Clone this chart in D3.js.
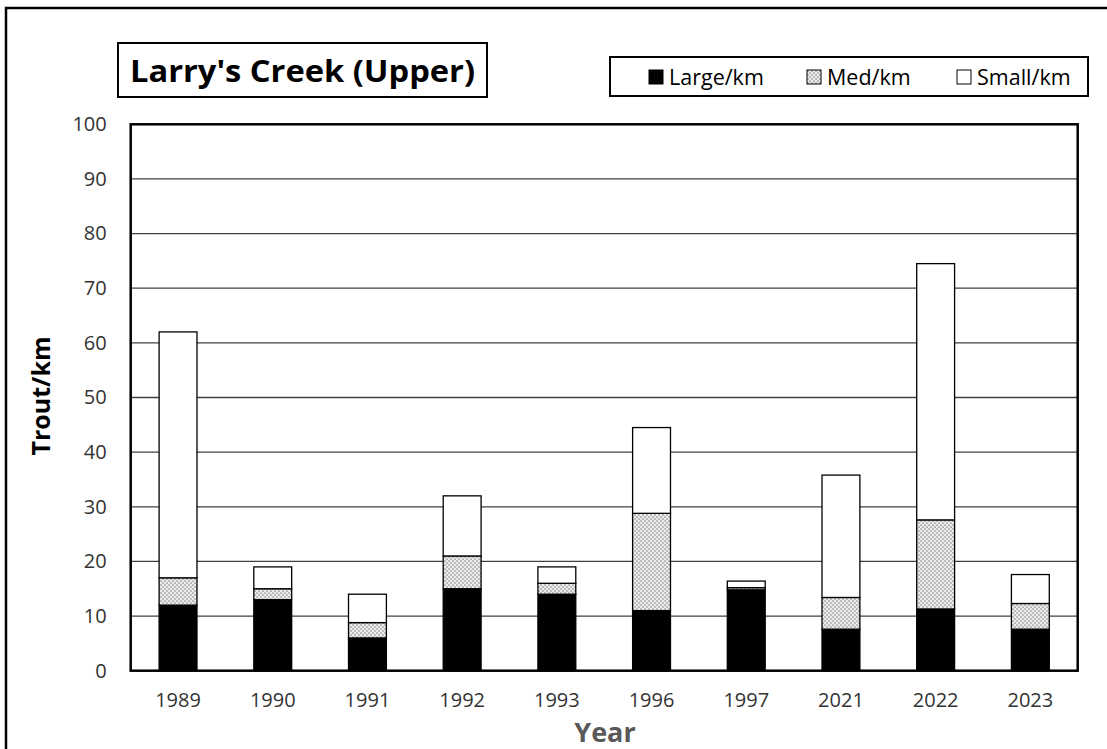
<!DOCTYPE html>
<html>
<head>
<meta charset="utf-8">
<script src="https://cdnjs.cloudflare.com/ajax/libs/d3/7.8.5/d3.min.js"></script>
<style>
  body { margin: 0; background: #fff; }
  svg { display: block; font-family: "Open Sans", sans-serif; }
</style>
</head>
<body>
<div id="chart"></div>
<script>
var w = 1107, h = 749;

// data (trout per km)
var years = ["1989", "1990", "1991", "1992", "1993", "1996", "1997", "2021", "2022", "2023"];
var large = [12, 13, 6, 15, 14, 11, 14.8, 7.6, 11.3, 7.6];
var med   = [5, 2, 2.8, 6, 2, 17.8, 0.4, 5.8, 16.3, 4.7];
var small = [45, 4, 5.2, 11, 3, 15.7, 1.2, 22.4, 46.9, 5.3];
var yTicks = [0, 10, 20, 30, 40, 50, 60, 70, 80, 90, 100];
var seriesNames = ["Large/km", "Med/km", "Small/km"];

var rows = years.map(function(y, i) {
    return { year: y, "Large/km": large[i], "Med/km": med[i], "Small/km": small[i] };
});

var plot = { left: 130.7, right: 1077.7, top: 124.3, bottom: 670.7 };

var svg = d3.select("#chart").append("svg")
    .attr("width", w)
    .attr("height", h);

// dotted fill for the medium series
var defs = svg.append("defs");
var pat = defs.append("pattern")
    .attr("id", "dots")
    .attr("patternUnits", "userSpaceOnUse")
    .attr("width", 4)
    .attr("height", 4);
pat.append("rect").attr("width", 4).attr("height", 4).attr("fill", "#ececec");
pat.append("circle").attr("cx", 1).attr("cy", 1).attr("r", 0.85).attr("fill", "#8a8a8a");
pat.append("circle").attr("cx", 3).attr("cy", 3).attr("r", 0.85).attr("fill", "#8a8a8a");

var fills = { "Large/km": "#000", "Med/km": "url(#dots)", "Small/km": "#fff" };

// outer frame (runs off the right and bottom edges)
svg.append("rect")
    .attr("x", 6).attr("y", 8)
    .attr("width", 1120).attr("height", 760)
    .attr("fill", "none")
    .attr("stroke", "#000")
    .attr("stroke-width", 2.5);

var x = d3.scaleBand()
    .domain(years)
    .range([plot.left, plot.right])
    .paddingInner(0.6)
    .paddingOuter(0.3);

var y = d3.scaleLinear()
    .domain([0, 100])
    .range([plot.bottom, plot.top]);

// gridlines
svg.append("g")
    .selectAll("line")
    .data(yTicks.filter(function(d) { return d > 0 && d < 100; }))
    .enter().append("line")
    .attr("x1", plot.left).attr("x2", plot.right)
    .attr("y1", function(d) { return y(d); })
    .attr("y2", function(d) { return y(d); })
    .attr("stroke", "#404040")
    .attr("stroke-width", 1.3);

// stacked bars
var stack = d3.stack().keys(seriesNames);
var layers = stack(rows);

svg.append("g")
    .selectAll("g")
    .data(layers)
    .enter().append("g")
    .attr("fill", function(d) { return fills[d.key]; })
    .selectAll("rect")
    .data(function(d) { return d; })
    .enter().append("rect")
    .attr("x", function(d) { return x(d.data.year); })
    .attr("width", x.bandwidth())
    .attr("y", function(d) { return y(d[1]); })
    .attr("height", function(d) { return y(d[0]) - y(d[1]); })
    .attr("stroke", "#000")
    .attr("stroke-width", 1.3);

// plot border
svg.append("rect")
    .attr("x", plot.left).attr("y", plot.top)
    .attr("width", plot.right - plot.left)
    .attr("height", plot.bottom - plot.top)
    .attr("fill", "none")
    .attr("stroke", "#000")
    .attr("stroke-width", 2.5);

// y axis labels
var yAxis = d3.axisLeft(y).tickValues(yTicks).tickSize(0).tickPadding(24);
var gy = svg.append("g")
    .attr("transform", "translate(" + plot.left + ",0)")
    .call(yAxis);
gy.select(".domain").remove();
gy.selectAll("text")
    .attr("font-family", "Open Sans")
    .attr("font-size", 20)
    .attr("fill", "#333");

// x axis labels
var xAxis = d3.axisBottom(x).tickSize(0).tickPadding(22);
var gx = svg.append("g")
    .attr("transform", "translate(0," + plot.bottom + ")")
    .call(xAxis);
gx.select(".domain").remove();
gx.selectAll("text")
    .attr("font-family", "Open Sans")
    .attr("font-size", 20)
    .attr("fill", "#333");

// axis titles
svg.append("text")
    .attr("transform", "translate(50,396) rotate(-90)")
    .attr("text-anchor", "middle")
    .attr("font-size", 25)
    .attr("font-weight", "bold")
    .attr("fill", "#000")
    .text("Trout/km");

svg.append("text")
    .attr("x", 605).attr("y", 742)
    .attr("text-anchor", "middle")
    .attr("font-size", 27)
    .attr("font-weight", "bold")
    .attr("fill", "#595959")
    .text("Year");

// title box
svg.append("rect")
    .attr("x", 118).attr("y", 43)
    .attr("width", 369).attr("height", 54)
    .attr("fill", "#fff")
    .attr("stroke", "#000")
    .attr("stroke-width", 2);
svg.append("text")
    .attr("x", 130).attr("y", 82)
    .attr("font-size", 31)
    .attr("font-weight", "bold")
    .attr("textLength", 345)
    .attr("lengthAdjust", "spacingAndGlyphs")
    .text("Larry's Creek (Upper)");

// legend
svg.append("rect")
    .attr("x", 610).attr("y", 57)
    .attr("width", 478).attr("height", 39)
    .attr("fill", "#fff")
    .attr("stroke", "#000")
    .attr("stroke-width", 2);

var legendX = [649, 807, 957];
var leg = svg.append("g")
    .selectAll("g")
    .data(seriesNames)
    .enter().append("g")
    .attr("transform", function(d, i) { return "translate(" + legendX[i] + ",70)"; });
leg.append("rect")
    .attr("width", 14).attr("height", 14)
    .attr("fill", function(d) { return fills[d]; })
    .attr("stroke", "#000")
    .attr("stroke-width", 1);
leg.append("text")
    .attr("x", 20).attr("y", 15)
    .attr("font-size", 21.5)
    .attr("fill", "#000")
    .text(function(d) { return d; });
</script>
</body>
</html>
